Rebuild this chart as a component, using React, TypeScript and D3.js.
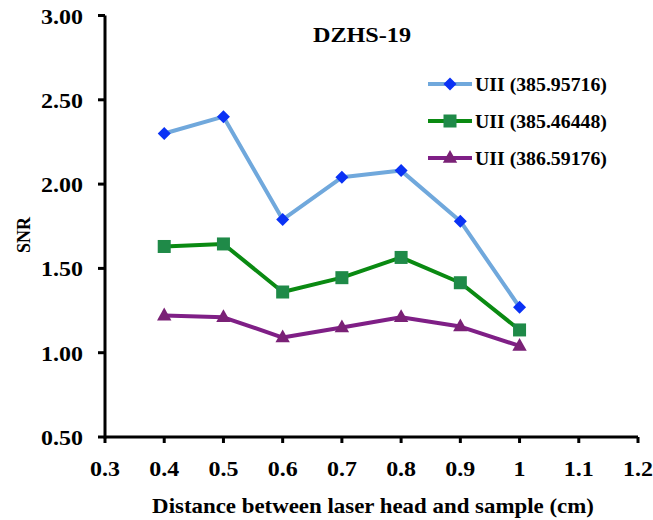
import React from "react";
import * as d3 from "d3";

const distances = [0.4, 0.5, 0.6, 0.7, 0.8, 0.9, 1.0];
const snr385_95716 = [2.30, 2.40, 1.79, 2.04, 2.08, 1.78, 1.27];
const snr385_46448 = [1.63, 1.645, 1.36, 1.445, 1.565, 1.415, 1.135];
const snr386_59176 = [1.22, 1.21, 1.09, 1.15, 1.21, 1.155, 1.04];
const seriesNames = ["UII (385.95716)", "UII (385.46448)", "UII (386.59176)"];
const xTicks = [0.3, 0.4, 0.5, 0.6, 0.7, 0.8, 0.9, 1, 1.1, 1.2];
const yTicks = [0.5, 1.0, 1.5, 2.0, 2.5, 3.0];

const W = 653;
const H = 520;
const FONT = "'Liberation Serif', 'Times New Roman', serif";

// Bold serif text, slightly widened horizontally
function Label(props: {
  x: number;
  y: number;
  size: number;
  anchor?: "start" | "middle" | "end";
  sx?: number;
  rotate?: number;
  children: React.ReactNode;
}) {
  const { x, y, size, anchor = "start", sx = 1.09, rotate = 0, children } = props;
  return (
    <text
      transform={`translate(${x},${y}) rotate(${rotate}) scale(${sx},1)`}
      textAnchor={anchor}
      fontSize={size}
      fontWeight="bold"
      fill="#000"
    >
      {children}
    </text>
  );
}

export default function App() {
  const x = d3.scaleLinear().domain([0.3, 1.2]).range([105, 638]);
  const y = d3.scaleLinear().domain([0.5, 3.0]).range([437, 15.5]);
  const line = d3
    .line<number>()
    .x((_, i) => x(distances[i]))
    .y((d) => y(d));

  const series = [
    { name: seriesNames[0], values: snr385_95716, stroke: "#70a8dc", fill: "#0a32f5", shape: "diamond" },
    { name: seriesNames[1], values: snr385_46448, stroke: "#0a8a12", fill: "#1f8a48", shape: "square" },
    { name: seriesNames[2], values: snr386_59176, stroke: "#7f1f86", fill: "#7a2176", shape: "triangle" },
  ];

  const marker = (shape: string, cx: number, cy: number, fill: string, key: string) => {
    if (shape === "diamond") {
      const r = 6.5;
      return (
        <path key={key} d={`M${cx},${cy - r}L${cx + r},${cy}L${cx},${cy + r}L${cx - r},${cy}Z`} fill={fill} />
      );
    }
    if (shape === "square") {
      const s = 13;
      return <rect key={key} x={cx - s / 2} y={cy - s / 2} width={s} height={s} fill={fill} />;
    }
    const r = 8;
    return (
      <path key={key} d={`M${cx},${cy - r}L${cx + r * 0.9},${cy + r * 0.6}L${cx - r * 0.9},${cy + r * 0.6}Z`} fill={fill} />
    );
  };

  const legendX = 428;
  const legendY = [84, 121, 158];

  return (
    <svg width={W} height={H} style={{ position: "absolute", left: 0, top: 0, background: "#fff" }} fontFamily={FONT}>
      <rect width={W} height={H} fill="#fff" />
      {/* axes */}
      <line x1={x(0.3)} x2={x(1.2)} y1={y(0.5)} y2={y(0.5)} stroke="#000" strokeWidth={3} />
      <line x1={x(0.3)} x2={x(0.3)} y1={y(0.5) + 1.5} y2={y(3.0)} stroke="#000" strokeWidth={3} />
      {xTicks.map((t) => (
        <g key={`xt${t}`}>
          <line x1={x(t)} x2={x(t)} y1={y(0.5)} y2={y(0.5) + 6} stroke="#000" strokeWidth={3} />
          <Label x={x(t)} y={476} size={22} anchor="middle">
            {d3.format("")(t)}
          </Label>
        </g>
      ))}
      {yTicks.map((t) => (
        <g key={`yt${t}`}>
          <line x1={x(0.3) - 7} x2={x(0.3)} y1={y(t)} y2={y(t)} stroke="#000" strokeWidth={3} />
          <Label x={83} y={y(t) + 8} size={22} anchor="end">
            {d3.format(".2f")(t)}
          </Label>
        </g>
      ))}
      <Label x={373} y={513} size={22} anchor="middle" sx={1.04}>
        Distance between laser head and sample (cm)
      </Label>
      <Label x={30} y={235} size={18} anchor="middle" rotate={-90} sx={1}>
        SNR
      </Label>
      <Label x={362} y={42} size={22} anchor="middle" sx={1.1}>
        DZHS-19
      </Label>
      {/* series */}
      {series.map((s) => (
        <g key={s.name}>
          <path d={line(s.values) || ""} fill="none" stroke={s.stroke} strokeWidth={4} strokeLinejoin="round" />
          {s.values.map((v, i) => marker(s.shape, x(distances[i]), y(v), s.fill, `${s.name}-${i}`))}
        </g>
      ))}
      {/* legend */}
      {series.map((s, i) => (
        <g key={`lg${i}`}>
          <line x1={legendX} x2={legendX + 44} y1={legendY[i]} y2={legendY[i]} stroke={s.stroke} strokeWidth={4} />
          {marker(s.shape, legendX + 22, legendY[i], s.fill, `lm${i}`)}
          <Label x={legendX + 47} y={legendY[i] + 7} size={18} sx={1.1}>
            {s.name}
          </Label>
        </g>
      ))}
    </svg>
  );
}
